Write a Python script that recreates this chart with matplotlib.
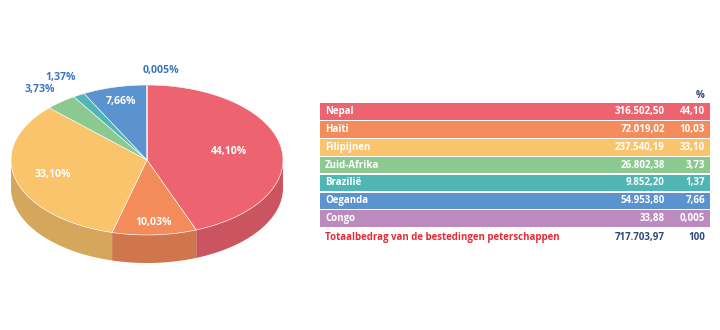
import numpy as np
import matplotlib.pyplot as plt
from matplotlib.patches import Polygon, Rectangle
from matplotlib.colors import to_rgb

# -------------------------------
# Data
# -------------------------------
landen = ['Nepal', 'Haïti', 'Filipijnen', 'Zuid-Afrika', 'Brazilië', 'Oeganda', 'Congo']
bedragen = ['316.502,50', '72.019,02', '237.540,19', '26.802,38', '9.852,20', '54.953,80', '33,88']
procenten = [44.10, 10.03, 33.10, 3.73, 1.37, 7.66, 0.005]
procent_tekst = ['44,10', '10,03', '33,10', '3,73', '1,37', '7,66', '0,005']
totaal_label = 'Totaalbedrag van de bestedingen peterschappen'
totaal_bedrag = '717.703,97'
totaal_procent = '100'

kleuren = ['#EE6370', '#F38B5A', '#F9C46C', '#8CC991', '#50B5B5', '#5B93CE', '#BC8ABF']

plt.rcParams['font.family'] = ['Open Sans', 'DejaVu Sans']
FS = 7.0

fig = plt.figure(figsize=(7.2, 3.3), dpi=100)
ax = fig.add_axes([0, 0, 1, 1])
ax.set_xlim(0, 720)
ax.set_ylim(330, 0)
ax.axis('off')

# -------------------------------
# 3D taart
# -------------------------------
cx, cy = 147, 160      # middelpunt bovenvlak
rx, ry = 136, 75       # stralen ellips
diepte = 28

def donker(c, f=0.85):
    r, g, b = to_rgb(c)
    return (r * f, g * f, b * f)

def punt(t, dy=0.0, f=1.0):
    return cx + rx * f * np.sin(t), cy - ry * f * np.cos(t) + dy

frac = np.array(procenten) / np.sum(procenten)
grenzen = np.concatenate([[0], np.cumsum(frac)]) * 2 * np.pi

# zijkanten (alleen voorkant zichtbaar: pi/2 .. 3pi/2)
for i in range(len(landen)):
    a0 = max(grenzen[i], np.pi / 2)
    a1 = min(grenzen[i + 1], 3 * np.pi / 2)
    if a1 <= a0:
        continue
    t = np.linspace(a0, a1, 60)
    boven = np.column_stack(punt(t))
    onder = np.column_stack(punt(t[::-1], diepte))
    ax.add_patch(Polygon(np.vstack([boven, onder]), closed=True,
                         facecolor=donker(kleuren[i]), edgecolor='none'))

# bovenvlak
for i in range(len(landen)):
    t = np.linspace(grenzen[i], grenzen[i + 1], 120)
    rand = np.column_stack(punt(t))
    pts = np.vstack([[cx, cy], rand])
    ax.add_patch(Polygon(pts, closed=True, facecolor=kleuren[i],
                         edgecolor='white', linewidth=0.4))

# labels
label_r = [0.61, 0.84, 0.72, 1.22, 1.27, 0.8, 1.2]
label_dx = [0, 0, 0, -2, 0, 0, 14]
for i in range(len(landen)):
    mid = (grenzen[i] + grenzen[i + 1]) / 2
    x, y = punt(mid, f=label_r[i])
    binnen = label_r[i] < 1
    ax.text(x + label_dx[i], y, procent_tekst[i] + '%', ha='center', va='center',
            fontsize=7.6, fontweight='bold',
            color='white' if binnen else '#3A74C0')

# -------------------------------
# Tabel
# -------------------------------
x0, x1 = 320, 710
y_start = 103
rij_h = 17.9
col_bedrag = 665
col_pct = 705

ax.text(col_pct, 96, '%', ha='right', va='center', fontsize=FS,
        fontweight='bold', color='#2F4A7A')

for i in range(len(landen)):
    y = y_start + i * rij_h
    ax.add_patch(Rectangle((x0, y), x1 - x0, rij_h - 1.2,
                           facecolor=kleuren[i], edgecolor='none'))
    ym = y + (rij_h - 1.2) / 2
    ax.text(x0 + 5, ym, landen[i], ha='left', va='center', fontsize=FS,
            fontweight='bold', color='white')
    ax.text(col_bedrag, ym, bedragen[i], ha='right', va='center', fontsize=FS,
            fontweight='bold', color='white')
    ax.text(col_pct, ym, procent_tekst[i], ha='right', va='center', fontsize=FS,
            fontweight='bold', color='white')

y_tot = y_start + len(landen) * rij_h + 9
ax.text(x0 + 5, y_tot, totaal_label, ha='left', va='center', fontsize=FS,
        fontweight='bold', color='#E52B3A')
ax.text(col_bedrag, y_tot, totaal_bedrag, ha='right', va='center', fontsize=FS,
        fontweight='bold', color='#2F4A7A')
ax.text(col_pct, y_tot, totaal_procent, ha='right', va='center', fontsize=FS,
        fontweight='bold', color='#2F4A7A')

fig.savefig('out.png', dpi=100)
